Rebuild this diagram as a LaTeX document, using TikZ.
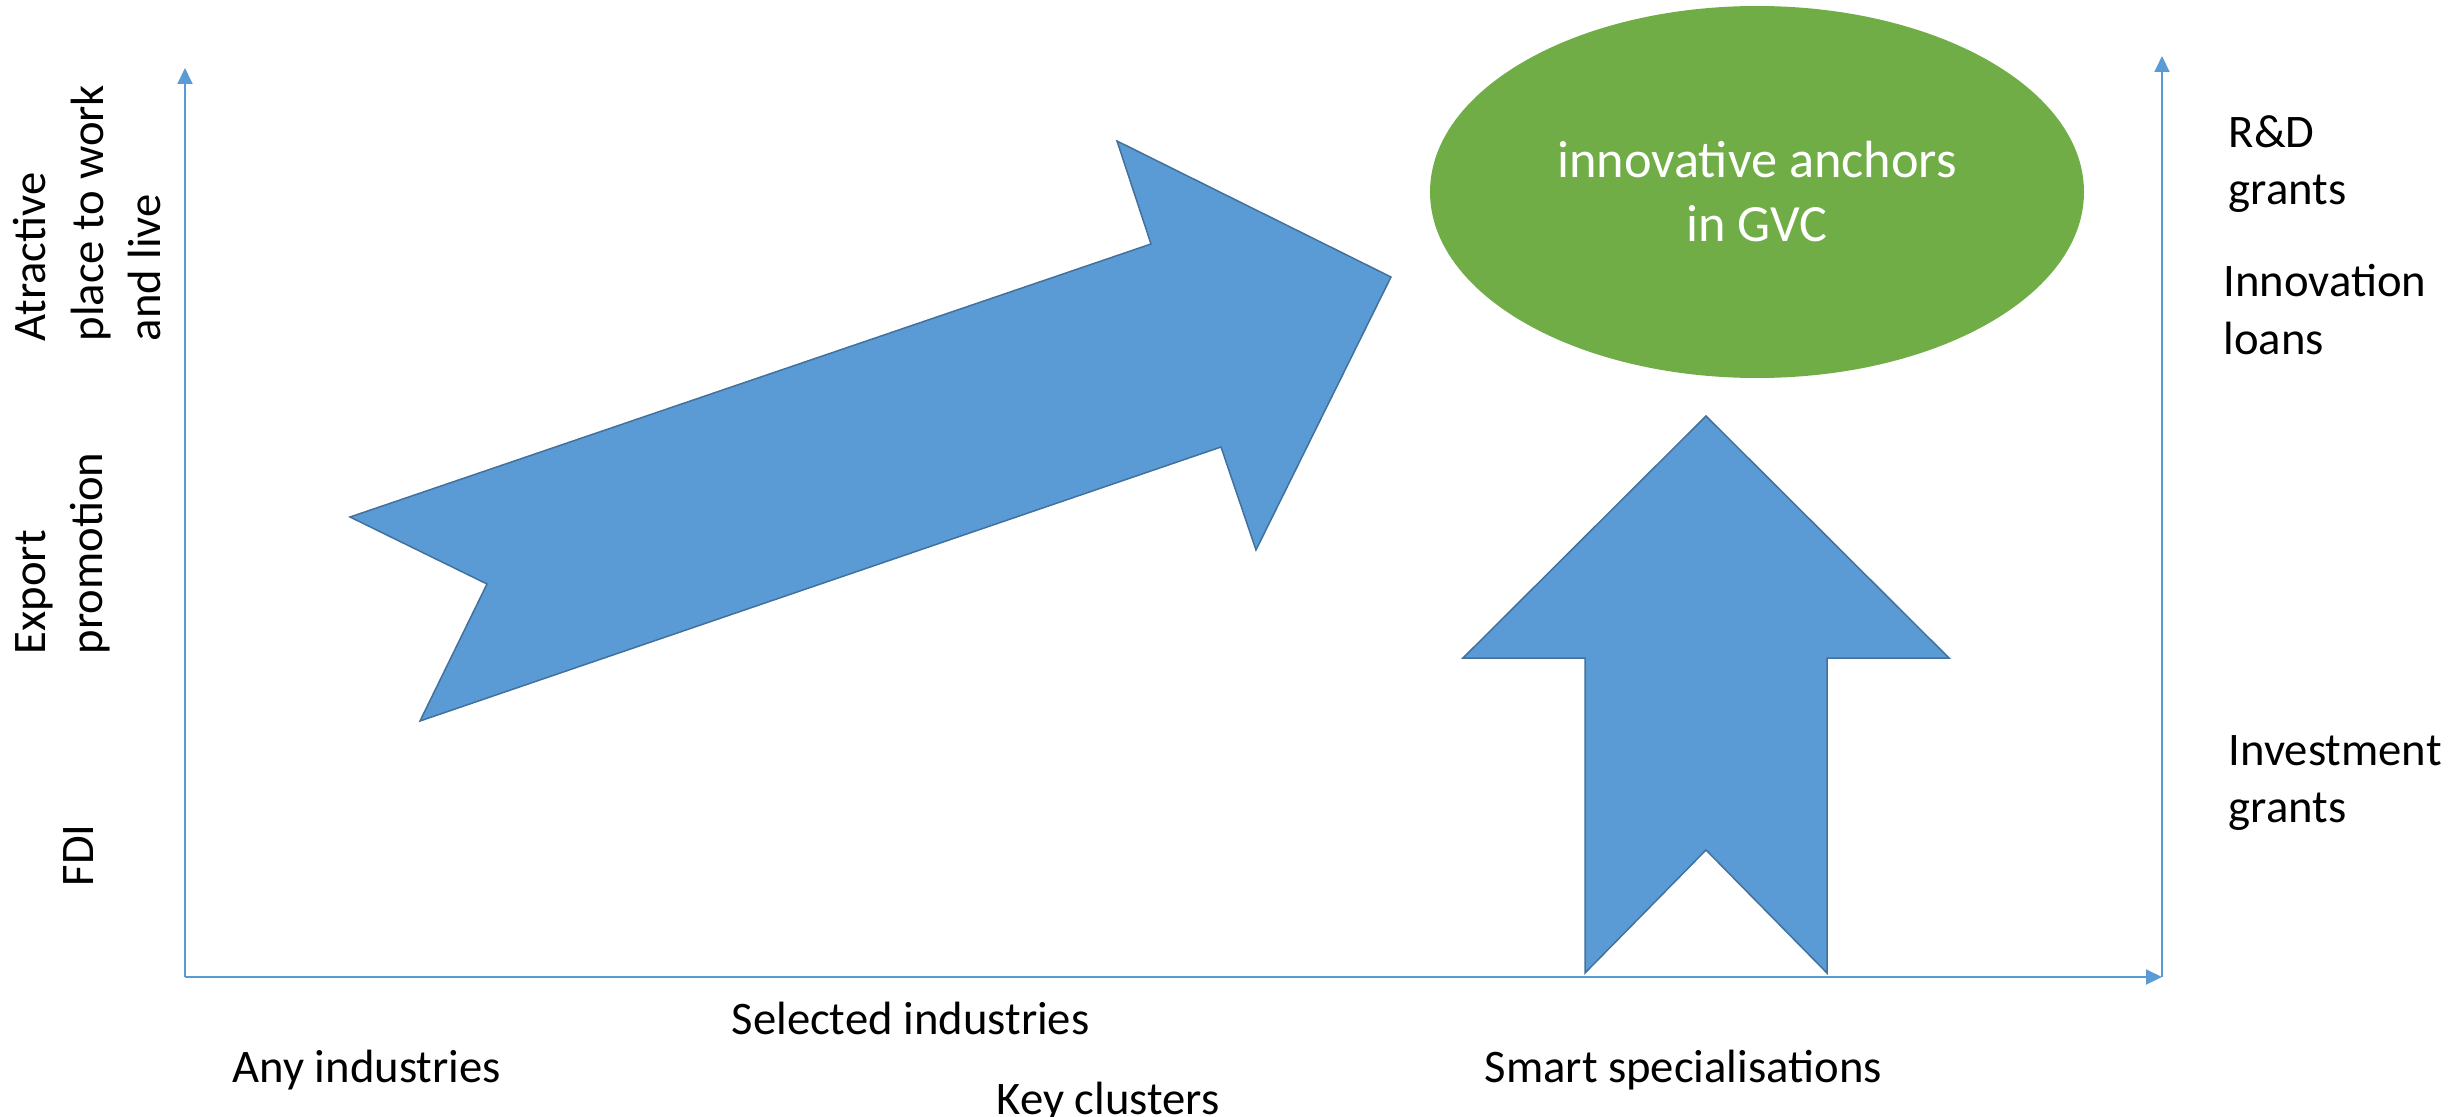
\documentclass[tikz,border=0pt]{standalone}
\usepackage{fontspec}
\setmainfont{Carlito}
\usetikzlibrary{arrows.meta,shapes.geometric}

\definecolor{axisblue}{HTML}{5B9BD5}
\definecolor{arrowblue}{HTML}{5B9BD5}
\definecolor{arrowedge}{HTML}{41719C}
\definecolor{gvcgreen}{HTML}{70AD47}

\begin{document}
\begin{tikzpicture}[x=0.3pt,y=-0.3pt]
    \tikzset{lbl/.style= {inner sep=0pt
    , font=\fontsize{14}{17.2}\selectfont
    , align=left
      },
    vlbl/.style= {lbl, rotate=90, anchor=north west},
    axis/.style= {draw=axisblue, line width=0.55pt
    , -{Triangle[length=4.8pt,width=4.5pt]}
      },
    fat/.style= {fill=arrowblue, draw=arrowedge
    , line width=0.45pt, line join=miter
      }
    }

\useasboundingbox (0,0) rectangle (2463,1117);

% axes
\coordinate (origin) at (185,977);
\coordinate (ytop) at (185,68);
\coordinate (xend) at (2162,977);
\coordinate (rtop) at (2162,56);
\draw[axis] (origin) -- (ytop);
\draw[axis] (origin) -- (xend);
\draw[axis] (xend) -- (rtop);

% big arrows
\draw[fat] (350,517) -- (487,584) -- (420,721) -- (1221,447) -- (1256,550)
  -- (1391,277) -- (1117,141) -- (1151,244) -- cycle;
\draw[fat] (1585,973) -- (1585,658) -- (1463,658) -- (1706,416) -- (1949,658)
  -- (1827,658) -- (1827,973) -- (1706,850) -- cycle;

\node [ellipse, fill=gvcgreen, inner sep=0pt
  , minimum width=196.2pt, minimum height=111.6pt
  , text=white, align=center, font=\fontsize{15.7}{19.2}\selectfont]
  (gvc) at (1757,192) {innovative anchors\\in GVC};

% left labels
\node [vlbl] (attract) at (13,342) {Atractive\\place to work\\and live};
\node [vlbl] (export) at (15,655) {Export\\promotion};
\node [vlbl] (fdi) at (63,887) {FDI};

% right labels
\node [lbl, anchor=north west] (rnd) at (2228,115) {R\&D\\grants};
\node [lbl, anchor=north west] (loans) at (2223,264) {Innovation\\loans};
\node [lbl, anchor=north west] (invest) at (2228,735) {Investment\\grants};

% bottom labels
\node [lbl, anchor=base west] (any) at (232,1082) {Any industries};
\node [lbl, anchor=base west] (selected) at (731,1034) {Selected industries};
\node [lbl, anchor=base west] (clusters) at (996,1114) {Key clusters};
\node [lbl, anchor=base west] (smart) at (1484,1082) {Smart specialisations};
\end{tikzpicture}
\end{document}
